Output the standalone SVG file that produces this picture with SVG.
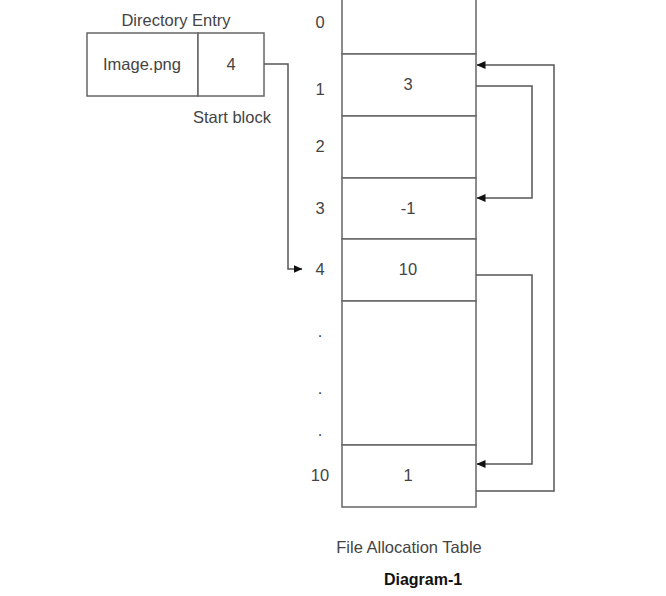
<svg xmlns="http://www.w3.org/2000/svg" width="666" height="596" viewBox="0 0 666 596">
<style>
.t{font-family:"Liberation Sans",Arial,sans-serif;fill:#444;font-size:16.5px;text-anchor:middle}
.b{fill:#fff;stroke:#666;stroke-width:1.5}
.c{fill:none;stroke:#555;stroke-width:1.5}
.d{font-family:"Liberation Sans",Arial,sans-serif;font-weight:bold;fill:#111;font-size:16px;text-anchor:middle}
</style>
<defs>
<marker id="ah" markerWidth="9" markerHeight="8" refX="8.5" refY="4" orient="auto" markerUnits="userSpaceOnUse">
<path d="M0,0 L9,4 L0,8 Z" fill="#111"/>
</marker>
</defs>
<rect width="666" height="596" fill="#fff"/>
<g id="directory-entry">
<text class="t" x="176" y="26" font-size="17.5">Directory Entry</text>
<rect class="b" x="87" y="33" width="111" height="63"/>
<rect class="b" x="198" y="33" width="66" height="63"/>
<text class="t" x="142" y="70">Image.png</text>
<text class="t" x="231" y="70">4</text>
<text class="t" x="232" y="123">Start block</text>
</g>
<g id="fat">
<rect class="b" x="342" y="-8" width="134" height="62"/>
<rect class="b" x="342" y="54" width="134" height="62"/>
<rect class="b" x="342" y="116" width="134" height="62"/>
<rect class="b" x="342" y="178" width="134" height="61"/>
<rect class="b" x="342" y="239" width="134" height="62"/>
<rect class="b" x="342" y="301" width="134" height="144"/>
<rect class="b" x="342" y="445" width="134" height="62"/>
<text class="t" x="408" y="90">3</text>
<text class="t" x="408" y="214">-1</text>
<text class="t" x="408" y="275">10</text>
<text class="t" x="408" y="481">1</text>
<text class="t" x="320" y="28">0</text>
<text class="t" x="320" y="95">1</text>
<text class="t" x="320" y="152">2</text>
<text class="t" x="320" y="214">3</text>
<text class="t" x="320" y="275">4</text>
<text class="t" x="320" y="337">.</text>
<text class="t" x="320" y="394">.</text>
<text class="t" x="320" y="436">.</text>
<text class="t" x="320" y="481">10</text>
<text class="t" x="409" y="553">File Allocation Table</text>
<text class="d" x="423" y="585">Diagram-1</text>
</g>
<g id="connectors">
<path class="c" d="M264,64 H288 V269 H302" marker-end="url(#ah)"/>
<path class="c" d="M476,86 H532 V198 H477" marker-end="url(#ah)"/>
<path class="c" d="M476,275 H532 V464 H477" marker-end="url(#ah)"/>
<path class="c" d="M476,491 H554 V65 H477" marker-end="url(#ah)"/>
</g>
</svg>
